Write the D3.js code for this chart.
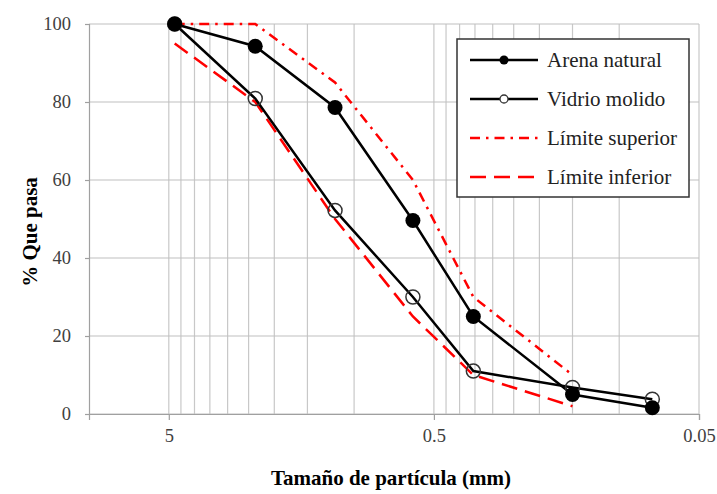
<!DOCTYPE html>
<html>
<head>
<meta charset="utf-8">
<script src="https://cdn.jsdelivr.net/npm/d3@7"></script>
<style>
  body { margin: 0; background: #fff; }
  text { font-family: "Liberation Serif", "Times New Roman", serif; }
</style>
</head>
<body>
<div id="chart"></div>
<script>
// datos de la curva granulométrica
const sizes = [4.75, 2.36, 1.18, 0.6, 0.355, 0.15, 0.075];
const arena = [100, 94.3, 78.6, 49.6, 25.0, 5.0, 1.6];
const vidrio = [100, 80.9, 52.2, 30.0, 11.0, 6.8, 3.8];
const limitSizes = [4.75, 2.36, 1.18, 0.6, 0.355, 0.15];
const superior = [100, 100, 85, 60, 30, 10];
const inferior = [95, 80, 50, 25, 10, 2];

const xTicks = [5, 0.5, 0.05];
const xGrid = [4.5, 4, 3.5, 3, 2.5, 2, 1.5, 1, 0.45, 0.4, 0.35, 0.3, 0.25, 0.2, 0.15, 0.1];
const yTicks = [0, 20, 40, 60, 80, 100];

const W = 717, H = 494;
const margin = { top: 24, right: 18, bottom: 80, left: 89 },
      width = W - margin.left - margin.right,
      height = H - margin.top - margin.bottom;

const svg = d3.select("#chart")
  .append("svg")
  .attr("width", W)
  .attr("height", H)
  .append("g")
  .attr("transform", `translate(${margin.left},${margin.top})`);

const x = d3.scaleLog().domain([10, 0.05]).range([0, width]);
const y = d3.scaleLinear().domain([0, 100]).range([height, 0]);

// rejilla
svg.selectAll(".vgrid")
  .data(xGrid.concat(xTicks))
  .enter().append("line")
  .attr("x1", d => x(d)).attr("x2", d => x(d))
  .attr("y1", 0).attr("y2", height)
  .attr("stroke", "#c8c8c8").attr("stroke-width", 1.2);

svg.selectAll(".hgrid")
  .data(yTicks)
  .enter().append("line")
  .attr("x1", 0).attr("x2", width)
  .attr("y1", d => y(d)).attr("y2", d => y(d))
  .attr("stroke", "#c0c0c0").attr("stroke-width", 1.2);

// ejes
const xAxis = svg.append("g")
  .attr("transform", `translate(0,${height})`)
  .call(d3.axisBottom(x).tickValues(xTicks).tickFormat(d => d).tickSize(6).tickPadding(9));
const yAxis = svg.append("g")
  .call(d3.axisLeft(y).tickValues(yTicks).tickSize(4).tickPadding(14));

[xAxis, yAxis].forEach(a => {
  a.select(".domain").attr("stroke", "#a0a0a0").attr("stroke-width", 1.2);
  a.selectAll(".tick line").attr("stroke", "#a0a0a0").attr("stroke-width", 1.2);
  a.selectAll(".tick text")
    .attr("font-size", "18.5px")
    .attr("fill", "#404040");
});

// limites
const limitLine = vals => d3.line()
  .x((d, i) => x(limitSizes[i]))
  .y(d => y(d))(vals);

svg.append("path")
  .attr("d", limitLine(superior))
  .attr("fill", "none").attr("stroke", "#ff0000").attr("stroke-width", 2.5)
  .attr("stroke-dasharray", "10,6,2.5,6");

svg.append("path")
  .attr("d", limitLine(inferior))
  .attr("fill", "none").attr("stroke", "#ff0000").attr("stroke-width", 2.5)
  .attr("stroke-dasharray", "16,8");

// series
const seriesLine = vals => d3.line()
  .x((d, i) => x(sizes[i]))
  .y(d => y(d))(vals);

svg.append("path")
  .attr("d", seriesLine(vidrio))
  .attr("fill", "none").attr("stroke", "#000").attr("stroke-width", 2.5);
svg.append("path")
  .attr("d", seriesLine(arena))
  .attr("fill", "none").attr("stroke", "#000").attr("stroke-width", 2.5);

svg.selectAll(".pv")
  .data(vidrio)
  .enter().append("circle")
  .attr("cx", (d, i) => x(sizes[i]))
  .attr("cy", d => y(d))
  .attr("r", 7)
  .attr("fill", "none").attr("stroke", "#333").attr("stroke-width", 1.5);

svg.selectAll(".pa")
  .data(arena)
  .enter().append("circle")
  .attr("cx", (d, i) => x(sizes[i]))
  .attr("cy", d => y(d))
  .attr("r", 7.5)
  .attr("fill", "#000");

// titulos
svg.append("text")
  .attr("x", 302).attr("y", height + 71)
  .attr("text-anchor", "middle")
  .attr("font-size", "21px").attr("font-weight", "bold")
  .text("Tamaño de partícula (mm)");

svg.append("text")
  .attr("transform", `translate(${-52},${208}) rotate(-90)`)
  .attr("text-anchor", "middle")
  .attr("font-size", "21px").attr("font-weight", "bold")
  .text("% Que pasa");

// leyenda
const legend = svg.append("g").attr("transform", "translate(368,15)");
legend.append("rect")
  .attr("width", 232).attr("height", 158)
  .attr("fill", "#fff").attr("stroke", "#333").attr("stroke-width", 1.5);

const items = [
  { name: "Arena natural", stroke: "#000", dash: null, marker: "fill" },
  { name: "Vidrio molido", stroke: "#000", dash: null, marker: "open" },
  { name: "Límite superior", stroke: "#ff0000", dash: "10,6,2.5,6", marker: null },
  { name: "Límite inferior", stroke: "#ff0000", dash: "16,8", marker: null }
];

const row = legend.selectAll(".item")
  .data(items)
  .enter().append("g")
  .attr("transform", (d, i) => `translate(0,${21 + i * 39})`);

row.append("line")
  .attr("x1", 13).attr("x2", 81)
  .attr("stroke", d => d.stroke).attr("stroke-width", 2.5)
  .attr("stroke-dasharray", d => d.dash);

row.filter(d => d.marker === "fill").append("circle")
  .attr("cx", 47).attr("r", 4.5).attr("fill", "#000");
row.filter(d => d.marker === "open").append("circle")
  .attr("cx", 47).attr("r", 4).attr("fill", "#fff").attr("stroke", "#333").attr("stroke-width", 1.3);

row.append("text")
  .attr("x", 90).attr("y", 7)
  .attr("font-size", "21px").attr("fill", "#222")
  .text(d => d.name);
</script>
</body>
</html>
